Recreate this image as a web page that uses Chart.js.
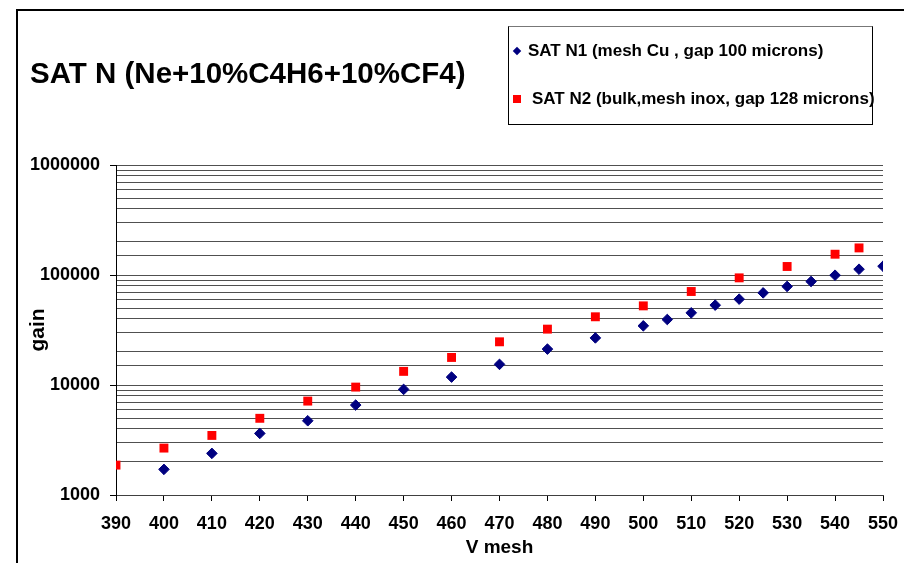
<!DOCTYPE html>
<html>
<head>
<meta charset="utf-8">
<script src="https://cdn.jsdelivr.net/npm/chart.js@4/dist/chart.umd.min.js"></script>
<style>
  html, body { margin: 0; padding: 0; background: #fff; overflow: hidden; }
  #wrap { position: relative; width: 904px; height: 563px; }
  #c { position: absolute; left: 0; top: 0; }
  #frame { position: absolute; left: 16px; top: 9px; width: 920px; height: 600px;
           border-left: 2px solid #000; border-top: 2px solid #000; pointer-events: none; }
  #title { position: absolute; left: 30px; top: 58px; font: bold 29.5px/29px "Liberation Sans", Arial, sans-serif;
           color: #000; white-space: nowrap; }
  #legend { position: absolute; left: 508px; top: 26px; width: 363px; height: 97px;
            border: 1px solid #000; border-top-color: #777; background: #fff; }
  .item { position: absolute; font: bold 17px/17px "Liberation Sans", Arial, sans-serif; color: #000; white-space: nowrap; }
  .mk { position: absolute; }
</style>
</head>
<body>
<div id="wrap">
  <canvas id="c" width="904" height="563"></canvas>
  <div id="frame"></div>
  <div id="title">SAT N (Ne+10%C4H6+10%CF4)</div>
  <div id="legend"></div>
</div>
<script>
// ---- data ----
const seriesLabels = ['SAT N1 (mesh Cu , gap 100 microns)', 'SAT N2 (bulk,mesh inox, gap 128 microns)'];
const voltsN1 = [400, 410, 420, 430, 440, 450, 460, 470, 480, 490, 500, 505, 510, 515, 520, 525, 530, 535, 540, 545, 550];
const gainN1  = [1710, 2390, 3630, 4730, 6570, 9120, 11800, 15400, 21200, 26800, 34500, 39400, 45300, 53200, 60300, 68800, 78700, 87300, 99600, 112900, 120200];
const voltsN2 = [390, 400, 410, 420, 430, 440, 450, 460, 470, 480, 490, 500, 510, 520, 530, 540, 545];
const gainN2  = [1870, 2670, 3480, 4980, 7140, 9570, 13300, 17800, 24700, 32200, 41700, 52400, 70800, 94200, 119500, 154500, 176300];
const yTickLabels = ['1000', '10000', '100000', '1000000'];
const xTickLabels = ['390','400','410','420','430','440','450','460','470','480','490','500','510','520','530','540','550'];

const FONT = '"Liberation Sans", Arial, sans-serif';

const chart = new Chart(document.getElementById('c').getContext('2d'), {
  type: 'scatter',
  data: {
    datasets: [
      {
        label: seriesLabels[0],
        data: voltsN1.map((x, i) => ({ x: x, y: gainN1[i] })),
        pointStyle: 'rectRot',
        pointRadius: 5.3,
        backgroundColor: '#000080',
        borderColor: '#000080',
        borderWidth: 1
      },
      {
        label: seriesLabels[1],
        data: voltsN2.map((x, i) => ({ x: x, y: gainN2[i] })),
        pointStyle: 'rect',
        pointRadius: 6.3,
        backgroundColor: '#ff0000',
        borderColor: '#ff0000',
        borderWidth: 0
      }
    ]
  },
  options: {
    responsive: false,
    animation: false,
    events: [],
    devicePixelRatio: 1,
    layout: { padding: { top: 165, right: 21, bottom: 0, left: 0 } },
    plugins: {
      legend: { display: false },
      title: { display: false },
      tooltip: { enabled: false }
    },
    scales: {
      x: {
        type: 'linear',
        min: 390,
        max: 550,
        ticks: {
          stepSize: 10,
          autoSkip: false,
          maxRotation: 0,
          padding: 12,
          color: '#000',
          font: { family: FONT, size: 18, weight: 'bold' },
          callback: (v) => xTickLabels.includes(String(v)) ? String(v) : ''
        },
        grid: { drawOnChartArea: false, drawTicks: true, tickLength: 6, tickColor: '#000', lineWidth: 1 },
        border: { display: true, color: '#404040', width: 1 },
        title: {
          display: true, text: 'V mesh', color: '#000',
          font: { family: FONT, size: 19, weight: 'bold' },
          padding: { top: 0, bottom: 4 }
        },
        afterFit: (s) => { s.height = 68; s.paddingLeft = 0; s.paddingRight = 0; }
      },
      y: {
        type: 'logarithmic',
        min: 1000,
        max: 1000000,
        ticks: {
          autoSkip: false,
          padding: 10,
          color: '#000',
          font: { family: FONT, size: 18, weight: 'bold' },
          callback: (v) => yTickLabels.includes(String(v)) ? String(v) : ''
        },
        grid: {
          color: '#505050',
          lineWidth: 1,
          drawTicks: true,
          tickLength: 6,
          tickColor: (ctx) => (ctx.tick && yTickLabels.includes(String(ctx.tick.value))) ? '#000' : 'rgba(0,0,0,0)'
        },
        border: { display: true, color: '#000', width: 1 },
        title: {
          display: true, text: 'gain', color: '#000',
          font: { family: FONT, size: 21, weight: 'bold' },
          padding: { top: 26, bottom: 0 }
        },
        afterFit: (s) => { s.width = 116; }
      }
    }
  }
});

// ---- HTML legend built from the chart's datasets ----
(function buildLegend() {
  const box = document.getElementById('legend');
  // per-entry placement inside the box (marker centre, text left/top)
  const place = [
    { mx: 8, my: 24, tx: 19, ty: 15 },
    { mx: 7.5, my: 72, tx: 23, ty: 63 }
  ];
  chart.data.datasets.forEach((ds, i) => {
    const p = place[i];
    const mk = document.createElement('div');
    mk.className = 'mk';
    mk.style.background = ds.backgroundColor;
    if (ds.pointStyle === 'rectRot') {
      mk.style.width = '6px'; mk.style.height = '6px';
      mk.style.left = (p.mx - 3) + 'px'; mk.style.top = (p.my - 3) + 'px';
      mk.style.transform = 'rotate(45deg)';
    } else {
      mk.style.width = '8px'; mk.style.height = '8px';
      mk.style.left = (p.mx - 4) + 'px'; mk.style.top = (p.my - 4) + 'px';
    }
    box.appendChild(mk);
    const t = document.createElement('div');
    t.className = 'item';
    t.textContent = ds.label;
    t.style.left = p.tx + 'px';
    t.style.top = p.ty + 'px';
    box.appendChild(t);
  });
})();
</script>
</body>
</html>
